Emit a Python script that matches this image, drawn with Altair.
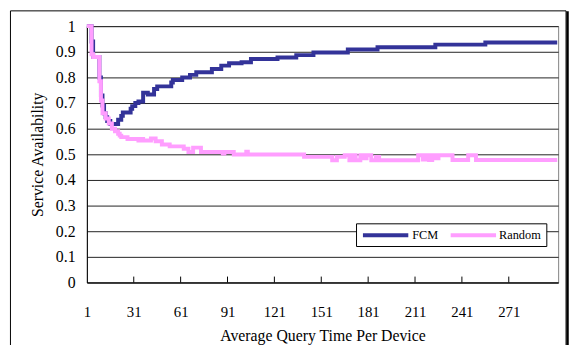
import altair as alt
import pandas as pd

# ---- data (step change points) ----
fcm_x = [1, 4, 5, 9, 10, 11, 12, 13, 14, 16, 21, 23, 24, 29, 30, 32, 34, 37, 40, 44,
         46, 55, 56, 62, 67, 71, 81, 87, 92, 100, 106, 123, 135, 146, 168, 187, 224, 256, 302]
fcm_y = [1.0, 0.94, 0.88, 0.80, 0.73, 0.69, 0.66, 0.645, 0.63, 0.618, 0.635, 0.65, 0.663,
         0.678, 0.688, 0.70, 0.706, 0.74, 0.733, 0.755, 0.765, 0.78, 0.79, 0.80, 0.81, 0.82,
         0.833, 0.846, 0.855, 0.859, 0.872, 0.878, 0.887, 0.897, 0.909, 0.918, 0.928, 0.936, 0.936]

rnd_x = [1, 4, 5, 9, 10, 11, 13, 15, 17, 19, 21, 22, 23, 27, 34, 36, 37, 42, 45, 49, 54,
         63, 66, 69, 74, 88, 89, 95, 103, 104, 140, 158, 161, 166, 169, 171, 173, 176, 178,
         180, 183, 186, 188, 213, 216, 218, 220, 222, 224, 226, 235, 245, 250, 302]
rnd_y = [1.0, 0.89, 0.88, 0.785, 0.71, 0.66, 0.64, 0.62, 0.60, 0.59, 0.58, 0.573, 0.567,
         0.56, 0.554, 0.56, 0.554, 0.562, 0.551, 0.538, 0.531, 0.522, 0.509, 0.526, 0.509,
         0.503, 0.509, 0.499, 0.51, 0.499, 0.49, 0.477, 0.49, 0.496, 0.477, 0.496, 0.477,
         0.496, 0.485, 0.496, 0.477, 0.49, 0.477, 0.496, 0.48, 0.496, 0.478, 0.496, 0.485,
         0.496, 0.478, 0.496, 0.478, 0.478]

series_names = ["FCM", "Random"]
series_colors = ["#333399", "#FF9EFF"]

x_ticks = [1, 31, 61, 91, 121, 151, 181, 211, 241, 271]
inner_ticks = [31, 61, 91, 121, 151, 181, 211, 241, 271]
y_ticks = [0, 0.1, 0.2, 0.3, 0.4, 0.5, 0.6, 0.7, 0.8, 0.9, 1.0]

df = pd.concat([
    pd.DataFrame({"t": fcm_x, "v": fcm_y, "s": "FCM"}),
    pd.DataFrame({"t": rnd_x, "v": rnd_y, "s": "Random"}),
])
tick_df = pd.DataFrame({"t": inner_ticks, "y0": 0.0, "y1": 0.023})

FONT = "Liberation Serif"
W, H = 478, 260
one = pd.DataFrame({"a": [0]})

xscale = alt.Scale(domain=[1, 302.6], nice=False, zero=False)
yscale = alt.Scale(domain=[0, 1], nice=False)
cscale = alt.Scale(domain=series_names, range=series_colors)

x_axis = alt.Axis(values=x_ticks, title="Average Query Time Per Device",
                  grid=False, ticks=False, tickSize=0, labelPadding=23,
                  titlePadding=8, domainColor="black", labelFlush=False,
                  labelOverlap=False, labelFontSize=15)
y_axis = alt.Axis(values=y_ticks, format=".1~f", title="Service Availability",
                  grid=True, gridColor="#222222", ticks=False, tickSize=0,
                  labelPadding=12, titlePadding=10, domainColor="black",
                  labelOverlap=False, labelFontSize=16, labelFlush=False)

frame = alt.Chart(one).mark_rect(
    filled=False, stroke="black", strokeWidth=1
).encode(
    x=alt.value(-77.5), x2=alt.value(486), y=alt.value(-15.5), y2=alt.value(340)
)
frame_shadow = alt.Chart(one).mark_rule(color="black", strokeWidth=2.5).encode(
    x=alt.value(487.5), y=alt.value(-15), y2=alt.value(340)
)

lines = alt.Chart(df).mark_line(interpolate="step-after", strokeWidth=4).encode(
    x=alt.X("t:Q", scale=xscale, axis=x_axis, title="Average Query Time Per Device"),
    y=alt.Y("v:Q", scale=yscale, axis=y_axis, title="Service Availability"),
    color=alt.Color("s:N", scale=cscale, legend=None),
    order=alt.Order("t:Q"),
)

ticks = alt.Chart(tick_df).mark_rule(color="black", strokeWidth=1).encode(
    x=alt.X("t:Q", scale=xscale, axis=x_axis, title="Average Query Time Per Device"),
    y=alt.Y("y0:Q", scale=yscale, axis=y_axis, title="Service Availability"),
    y2="y1:Q",
)

# legend (drawn by hand to match the Excel-style single-row box)
leg_box = alt.Chart(one).mark_rect(fill="white", stroke="black", strokeWidth=1).encode(
    x=alt.value(273.5), x2=alt.value(466.5), y=alt.value(200.5), y2=alt.value(223.5)
)
leg_df = pd.DataFrame({"s": series_names, "x0": [280, 369], "x1": [326, 415],
                       "tx": [330, 418]})
leg_lines = alt.Chart(leg_df).mark_rule(strokeWidth=4).encode(
    x=alt.X("x0:Q", scale=None), x2="x1:Q", y=alt.value(212),
    color=alt.Color("s:N", scale=cscale, legend=None),
)
leg_text = alt.Chart(leg_df).mark_text(
    align="left", baseline="middle", font=FONT, fontSize=12.5, color="black"
).encode(
    x=alt.X("tx:Q", scale=None), y=alt.value(212), text="s:N"
)

chart = alt.layer(frame, frame_shadow, lines, ticks, leg_box, leg_lines, leg_text).properties(
    width=W, height=H,
    autosize=alt.AutoSizeParams(type="none"),
    padding={"left": 80, "top": 16, "right": 11, "bottom": 61},
).configure_view(
    stroke="#808080", strokeWidth=1
).configure_axis(
    labelFont=FONT, titleFont=FONT, titleFontSize=16,
    labelColor="black", titleColor="black", titleFontWeight="normal"
)

chart.save("out.html", embed_options={"renderer": "svg", "actions": False})
